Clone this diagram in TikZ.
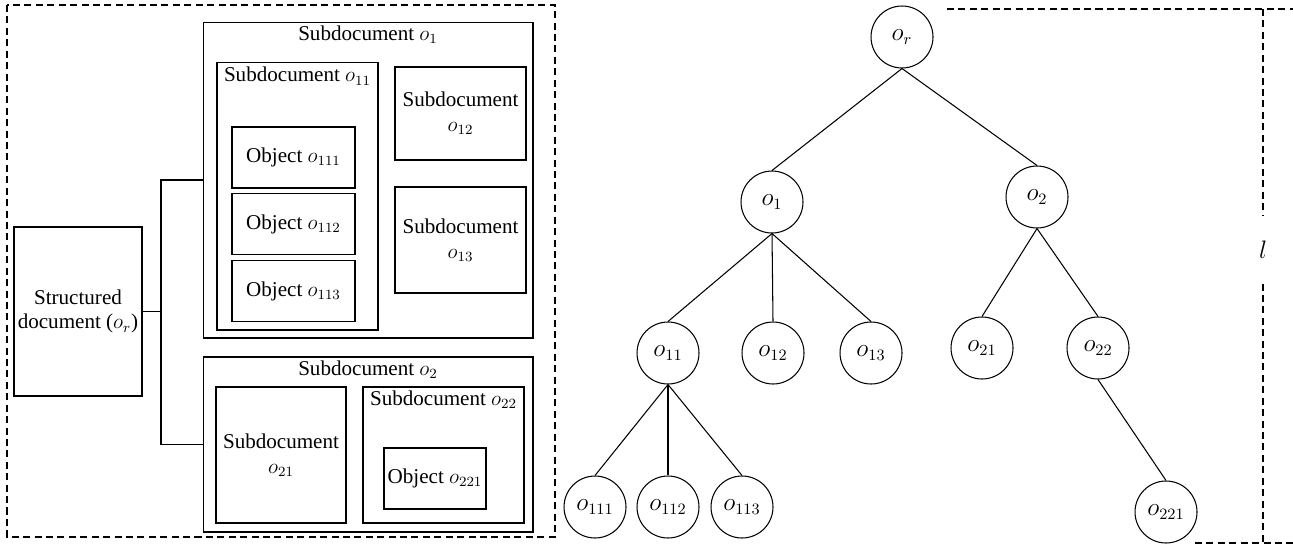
\documentclass[tikz,border=0pt]{standalone}
\usepackage{fontspec}
\setmainfont{Liberation Serif}
\usepackage{amsmath}

\tikzset{
	box/.style={draw, rectangle, line width=0.6pt, align=center, inner sep=0pt},
	head/.style={anchor=north, inner sep=2pt},
	vertex/.style={draw, circle, line width=0.6pt, minimum size=1.24cm, inner sep=0pt, font=\fontsize{13.5}{15}\selectfont},
	frame/.style={dashed, dash pattern=on 4pt off 2.5pt, line width=0.6pt}
}

\begin{document}
\begin{tikzpicture}
	[x=0.02cm,y=-0.02cm,font=\fontsize{12}{14}\selectfont,line width=0.6pt]
	\useasboundingbox (0,0) rectangle (1293,548);
	
	% left: the nested documents
	\draw[frame] (7,5) rectangle (555,537);
	\node[box, minimum width=2.56cm, minimum height=3.38cm] (sd) at (78,311.5) {Structured\\document ($o_r$)};
	
	\node[box, minimum width=6.6cm, minimum height=6.32cm] (b1) at (368,180) {};
	\node[head] at (b1.north) {Subdocument $o_1$};
	\node[box, minimum width=3.22cm, minimum height=5.36cm] (b11) at (297.5,196) {};
	\node[head, inner sep=3pt] at (b11.north) {Subdocument $o_{11}$};
	\node[box, minimum width=2.46cm, minimum height=1.22cm] (b111) at (293.5,157.5) {Object $o_{111}$};
	\node[box, minimum width=2.46cm, minimum height=1.22cm] (b112) at (293.5,224) {Object $o_{112}$};
	\node[box, minimum width=2.46cm, minimum height=1.22cm] (b113) at (293.5,291) {Object $o_{113}$};
	\node[box, minimum width=2.62cm, minimum height=1.86cm] (b12) at (460.5,113.5) {Subdocument\\$o_{12}$};
	\node[box, minimum width=2.62cm, minimum height=2.12cm] (b13) at (460.5,240) {Subdocument\\$o_{13}$};
	
	\node[box, minimum width=6.6cm, minimum height=3.5cm] (b2) at (368,444.5) {};
	\node[head] at (b2.north) {Subdocument $o_2$};
	\node[box, minimum width=2.6cm, minimum height=2.72cm] (b21) at (281,455) {Subdocument\\$o_{21}$};
	\node[box, minimum width=3.22cm, minimum height=2.72cm] (b22) at (443.5,455) {};
	\node[head] at (b22.north) {Subdocument $o_{22}$};
	\node[box, minimum width=2.04cm, minimum height=1.22cm] (b221) at (435,478.5) {Object $o_{221}$};
	
	\coordinate (j) at (161,311.5);
	\draw (sd.east) -- (j);
	\draw (b1.west) -| (j) |- (b2.west);
	
	% right: the tree
	\node[vertex] (nr) at (902,37) {$o_r$};
	\node[vertex] (n1) at (772,202) {$o_1$};
	\node[vertex] (n2) at (1037,197) {$o_2$};
	\node[vertex] (n11) at (668,353) {$o_{11}$};
	\node[vertex] (n12) at (773,353) {$o_{12}$};
	\node[vertex] (n13) at (871,353) {$o_{13}$};
	\node[vertex] (n21) at (982,348) {$o_{21}$};
	\node[vertex] (n22) at (1098,348) {$o_{22}$};
	\node[vertex] (n111) at (595,507) {$o_{111}$};
	\node[vertex] (n112) at (668,507) {$o_{112}$};
	\node[vertex] (n113) at (742,507) {$o_{113}$};
	\node[vertex] (n221) at (1166,512) {$o_{221}$};
	
	\foreach \from/\to in {nr/n1,nr/n2,n1/n11,n1/n12,n1/n13,n2/n21,n2/n22,n11/n111,n11/n112,n11/n113,n22/n221}
		\draw (\from.south) -- (\to.north);
	
	% level bracket
	\node[minimum height=1.32cm, inner sep=0pt, font=\fontsize{13.5}{15}\selectfont] (lv) at (1263,250) {$l$};
	\draw[frame] (947,9) -- (1293,9);
	\draw[frame] (1263,9) -- (lv.north);
	\draw[frame] (lv.south) -- (1263,543);
	\draw[frame] (1195,543) -- (1293,543);
\end{tikzpicture}
\end{document}
